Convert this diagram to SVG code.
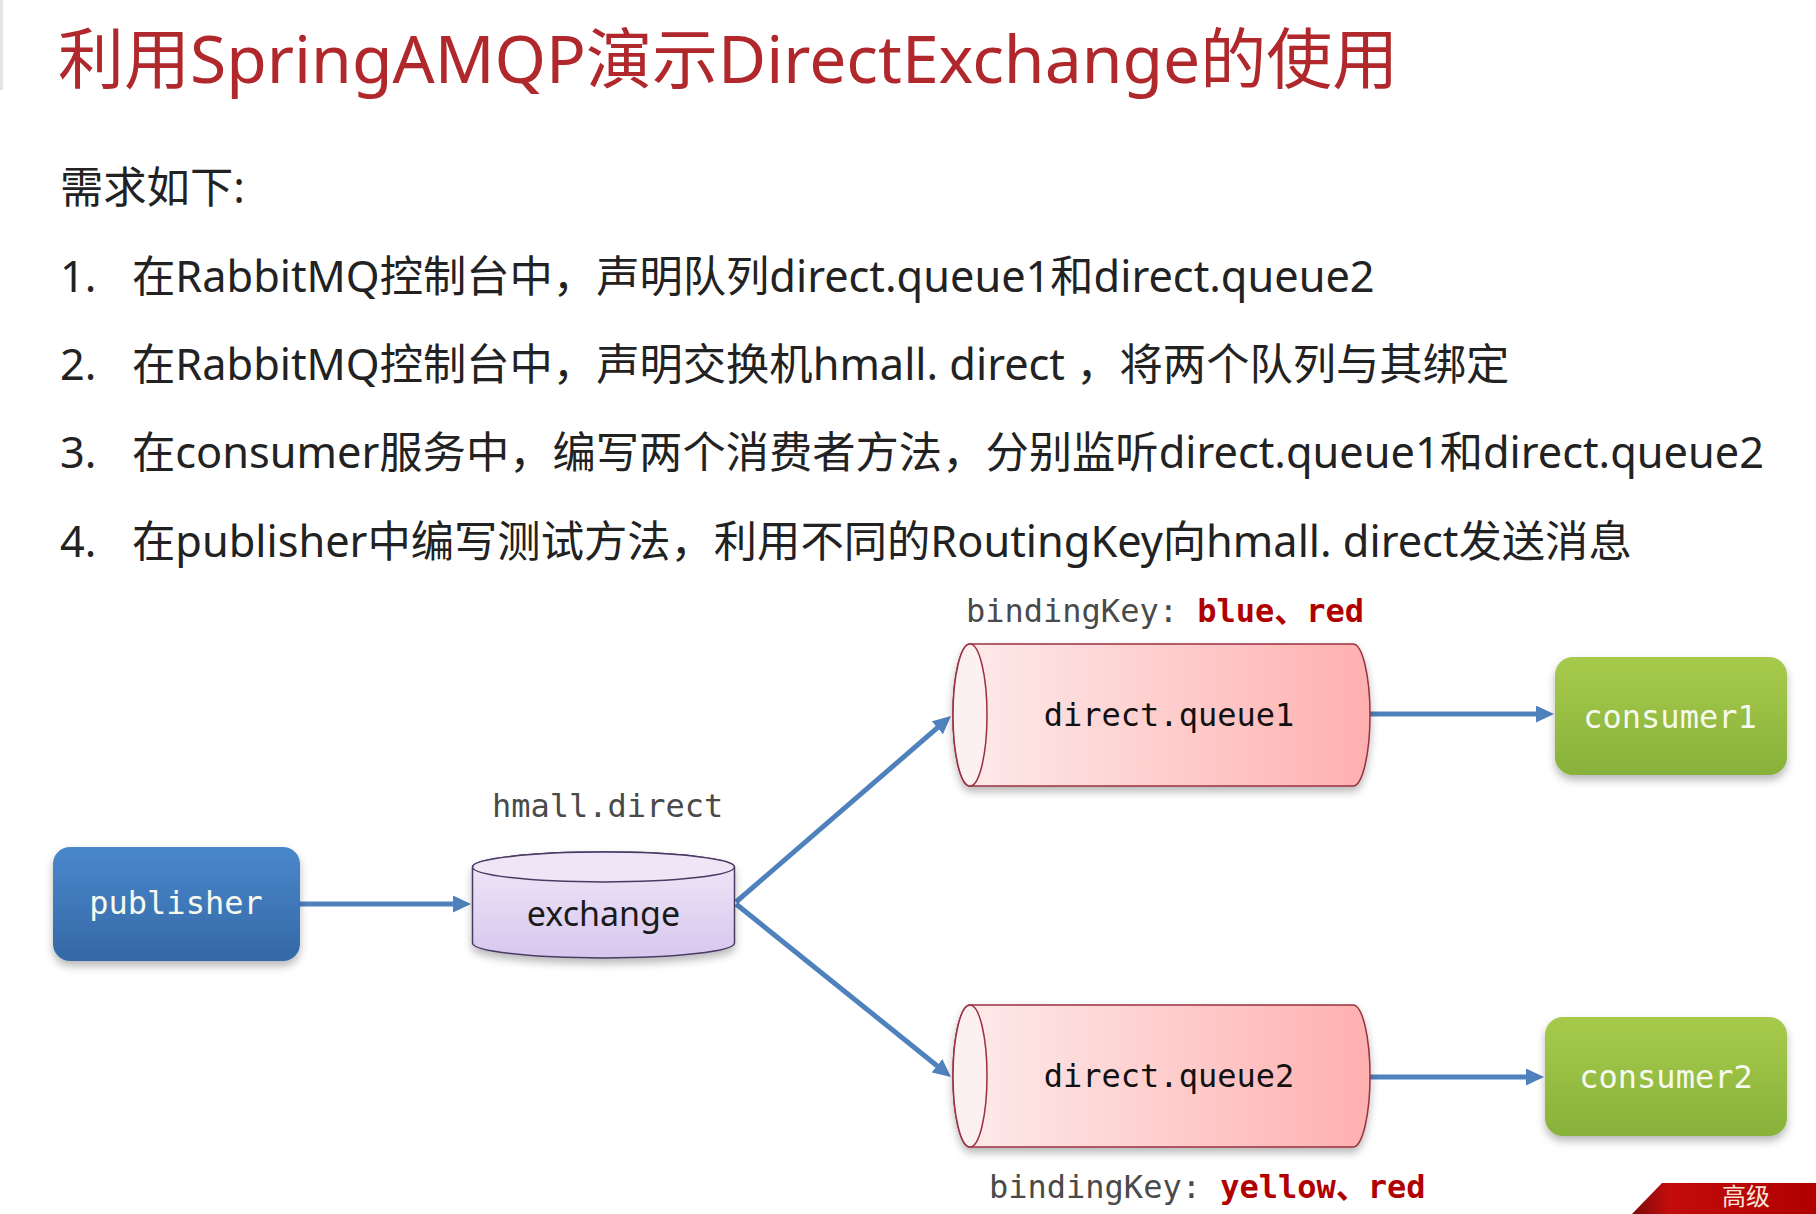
<svg xmlns="http://www.w3.org/2000/svg" width="1816" height="1214" viewBox="0 0 1816 1214">
<defs>
<style>
.title{font-family:"Noto Sans","Noto Sans CJK SC",sans-serif;font-size:66px;fill:#b0282c;}
.body{font-family:"Noto Sans","Noto Sans CJK SC",sans-serif;font-size:43.3px;fill:#222;}
.mono{font-family:"DejaVu Sans Mono","Noto Sans CJK SC",monospace;font-size:32px;}
.lbl{fill:#4a4a4a;}
.key{fill:#b00000;font-weight:bold;}
.white{fill:#f6f9ee;}
.conn{stroke:#4f81bd;stroke-width:5;fill:none;marker-end:url(#arrow);}
.qbody{fill:url(#qgrad);stroke:#9a3040;stroke-width:1.5;}
.qface{fill:#fdf0f0;stroke:#9a3040;stroke-width:1.5;}
</style>
<linearGradient id="blueg" x1="0" y1="0" x2="0" y2="1"><stop offset="0" stop-color="#4a88cc"/><stop offset="1" stop-color="#3468a6"/></linearGradient>
<linearGradient id="greeng" x1="0" y1="0" x2="0" y2="1"><stop offset="0" stop-color="#a7ca4c"/><stop offset="1" stop-color="#88b23a"/></linearGradient>
<linearGradient id="exg" x1="0" y1="0" x2="0" y2="1"><stop offset="0" stop-color="#f0e9f8"/><stop offset="1" stop-color="#d7c7ee"/></linearGradient>
<linearGradient id="qgrad" x1="0" y1="0" x2="1" y2="0"><stop offset="0" stop-color="#fdecec"/><stop offset="1" stop-color="#ffb0b0"/></linearGradient>
<linearGradient id="wm" x1="0" y1="0" x2="1" y2="0"><stop offset="0" stop-color="#7a0a0a"/><stop offset="0.2" stop-color="#c30c0c"/><stop offset="1" stop-color="#b00000"/></linearGradient>
<filter id="sh" x="-10%" y="-10%" width="120%" height="130%"><feDropShadow dx="0" dy="5" stdDeviation="4" flood-color="#000" flood-opacity="0.28"/></filter>
<marker id="arrow" markerUnits="userSpaceOnUse" markerWidth="18" markerHeight="17" refX="4" refY="8.5" orient="auto"><path d="M0,0 L18,8.5 L0,17 Z" fill="#4f81bd"/></marker>
</defs>
<rect width="1816" height="1214" fill="#ffffff"/>
<rect x="0" y="0" width="3" height="90" fill="#e4e4e4"/>

<text class="title" x="58" y="83">利用SpringAMQP演示DirectExchange的使用</text>

<g id="requirements">
<text class="body" x="60" y="203">需求如下:</text>
<text class="body" x="60" y="292">1.</text>
<text class="body" x="132" y="292">在RabbitMQ控制台中，声明队列direct.queue1和direct.queue2</text>
<text class="body" x="60" y="380">2.</text>
<text class="body" x="132" y="380">在RabbitMQ控制台中，声明交换机hmall. direct ，将两个队列与其绑定</text>
<text class="body" x="60" y="468">3.</text>
<text class="body" x="132" y="468">在consumer服务中，编写两个消费者方法，分别监听direct.queue1和direct.queue2</text>
<text class="body" x="60" y="557">4.</text>
<text class="body" x="132" y="557">在publisher中编写测试方法，利用不同的RoutingKey向hmall. direct发送消息</text>
</g>

<g id="connectors">
<line class="conn" x1="300" y1="904" x2="457" y2="904"/>
<line class="conn" x1="736" y1="902" x2="940.4" y2="725.2"/>
<line class="conn" x1="736" y1="904" x2="940.1" y2="1068.2"/>
<line class="conn" x1="1370" y1="714" x2="1540" y2="714"/>
<line class="conn" x1="1370" y1="1077" x2="1530" y2="1077"/>
</g>

<g id="publisher">
<rect x="53" y="847" width="247" height="114" rx="17" fill="url(#blueg)" filter="url(#sh)"/>
<text class="mono white" x="176" y="914" text-anchor="middle">publisher</text>
</g>

<g id="exchange">
<text class="mono lbl" x="492" y="817">hmall.direct</text>
<path d="M472.5,867 A131,15 0 0 1 734.5,867 L734.5,943 A131,15 0 0 1 472.5,943 Z" fill="url(#exg)" stroke="#4b3b63" stroke-width="1.5" filter="url(#sh)"/>
<ellipse cx="603.5" cy="867" rx="131" ry="15" fill="#eee6f7" stroke="#4b3b63" stroke-width="1.5"/>
<text x="603.5" y="926" text-anchor="middle" font-family="Noto Sans, sans-serif" font-size="34" fill="#1a1a1a">exchange</text>
</g>

<g id="queue1">
<text class="mono" x="966" y="622"><tspan class="lbl">bindingKey: </tspan><tspan class="key">blue、red</tspan></text>
<path class="qbody" d="M970,644 L1353,644 A17,71 0 0 1 1353,786 L970,786 A17,71 0 0 1 970,644 Z" filter="url(#sh)"/>
<ellipse class="qface" cx="970" cy="715" rx="17" ry="71"/>
<text class="mono" x="1169" y="726" text-anchor="middle" fill="#111">direct.queue1</text>
</g>

<g id="queue2">
<path class="qbody" d="M970,1005 L1353,1005 A17,71 0 0 1 1353,1147 L970,1147 A17,71 0 0 1 970,1005 Z" filter="url(#sh)"/>
<ellipse class="qface" cx="970" cy="1076" rx="17" ry="71"/>
<text class="mono" x="1169" y="1087" text-anchor="middle" fill="#111">direct.queue2</text>
<text class="mono" x="989" y="1198"><tspan class="lbl">bindingKey: </tspan><tspan class="key">yellow、red</tspan></text>
</g>

<g id="consumer1">
<rect x="1555" y="657" width="232" height="118" rx="18" fill="url(#greeng)" filter="url(#sh)"/>
<text class="mono white" x="1670" y="728" text-anchor="middle">consumer1</text>
</g>

<g id="consumer2">
<rect x="1545" y="1017" width="242" height="119" rx="18" fill="url(#greeng)" filter="url(#sh)"/>
<text class="mono white" x="1666" y="1088" text-anchor="middle">consumer2</text>
</g>

<g id="watermark">
<polygon points="1662,1183 1816,1183 1816,1214 1632,1214" fill="url(#wm)"/>
<text x="1722" y="1205" font-family="Noto Sans CJK SC, serif" font-size="24" fill="#f6e6d8">高级</text>
</g>
</svg>
